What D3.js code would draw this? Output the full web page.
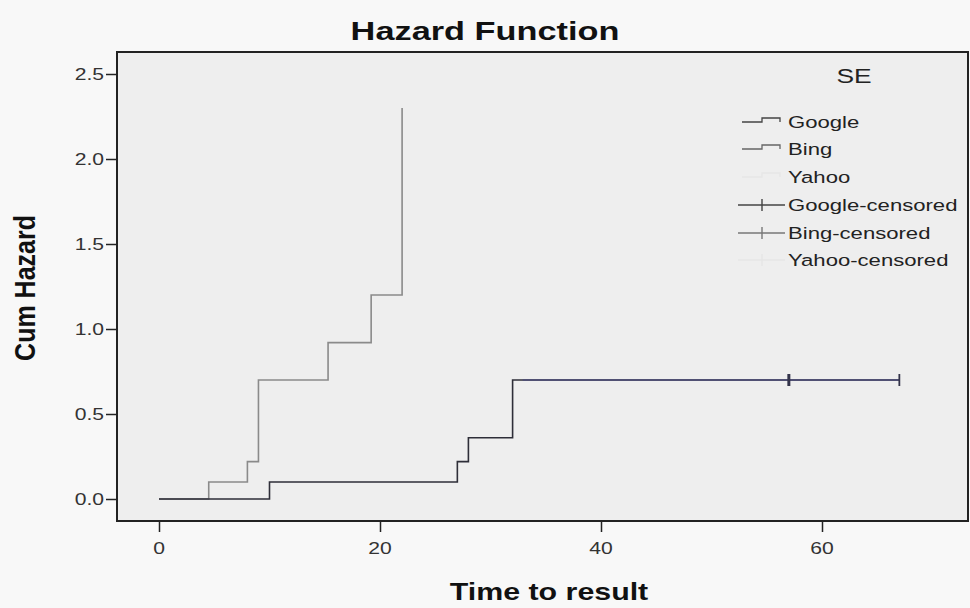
<!DOCTYPE html>
<html><head><meta charset="utf-8">
<script src="https://cdn.jsdelivr.net/npm/d3@7/dist/d3.min.js"></script>
<style>body{margin:0;background:#f8f8f8;}svg{display:block;}</style>
</head><body>
<svg id="chart" width="970" height="608"></svg>
<script>
// ---- data ----
const seriesNames = ["Google", "Bing", "Yahoo"];
const googleTimes = [0, 10, 27, 28, 32, 67];
const googleHazard = [0, 0.1, 0.22, 0.36, 0.7, 0.7];
const googleCensored = [57, 67];
const googleCensoredHazard = [0.7, 0.7];
const bingTimes = [0, 4.5, 8, 9, 15.3, 19.2, 22];
const bingHazard = [0, 0.1, 0.22, 0.7, 0.92, 1.2, 2.3];
const xTicks = [0, 20, 40, 60];
const yTicks = [0.0, 0.5, 1.0, 1.5, 2.0, 2.5];
const legendLabels = ["Google", "Bing", "Yahoo", "Google-censored", "Bing-censored", "Yahoo-censored"];

const SX = 1.32; // horizontal stretch of the original picture
const svg = d3.select("#chart");
const frame = {l: 117, t: 52, r: 968, b: 521};
const x = d3.scaleLinear().domain([0, 60]).range([159, 822]);
const y = d3.scaleLinear().domain([0, 2.5]).range([499, 74]);

function stext(g, str, px, py, size, opts = {}) {
  return g.append("text")
    .attr("transform", `translate(${px},${py}) scale(${opts.sx || SX},1)`)
    .attr("font-family", "'Liberation Sans', Arial, sans-serif")
    .attr("font-size", size)
    .attr("font-weight", opts.bold ? "bold" : "normal")
    .attr("fill", opts.fill || "#222")
    .attr("text-anchor", opts.anchor || "start")
    .text(str);
}

// background
svg.append("rect").attr("width", 970).attr("height", 608).attr("fill", "#f8f8f8");
svg.append("rect").attr("x", frame.l).attr("y", frame.t)
  .attr("width", frame.r - frame.l).attr("height", frame.b - frame.t)
  .attr("fill", "#eeeeee");

// title
stext(svg, "Hazard Function", 485, 40, 26, {bold: true, anchor: "middle", fill: "#111"});

// axes ticks
const yAxis = d3.axisLeft(y).tickValues(yTicks).tickSize(11).tickFormat(d3.format(".1f"));
const gy = svg.append("g").attr("transform", `translate(${frame.l},0)`).call(yAxis);
gy.select(".domain").remove();
gy.selectAll(".tick line").attr("stroke", "#222").attr("stroke-width", 1.5);
gy.selectAll(".tick text").remove();
yTicks.forEach(v => stext(svg, d3.format(".1f")(v), 104, y(v) + 6, 16, {anchor: "end", fill: "#333"}));

const xAxis = d3.axisBottom(x).tickValues(xTicks).tickSize(11);
const gx = svg.append("g").attr("transform", `translate(0,${frame.b})`).call(xAxis);
gx.select(".domain").remove();
gx.selectAll(".tick line").attr("stroke", "#222").attr("stroke-width", 1.5);
gx.selectAll(".tick text").remove();
xTicks.forEach(v => stext(svg, String(v), x(v), 554, 16, {anchor: "middle", fill: "#333"}));

// axis titles
stext(svg, "Time to result", 549, 600, 23, {bold: true, anchor: "middle", fill: "#111"});
svg.append("text")
  .attr("transform", `translate(35,288) scale(1.15,1) rotate(-90)`)
  .attr("font-family", "'Liberation Sans', Arial, sans-serif")
  .attr("font-size", 25).attr("font-weight", "bold").attr("fill", "#111")
  .attr("text-anchor", "middle").text("Cum Hazard");

// frame
svg.append("rect").attr("x", frame.l).attr("y", frame.t)
  .attr("width", frame.r - frame.l).attr("height", frame.b - frame.t)
  .attr("fill", "none").attr("stroke", "#222").attr("stroke-width", 2);

// step lines
const stepLine = d3.line().curve(d3.curveStepAfter).x(d => x(d[0])).y(d => y(d[1]));
const bingData = bingTimes.map((t, i) => [t, bingHazard[i]]);
const googleData = googleTimes.map((t, i) => [t, googleHazard[i]]);

svg.append("path").datum(bingData).attr("d", stepLine)
  .attr("fill", "none").attr("stroke", "#8a8a8a").attr("stroke-width", 1.6);
svg.append("path").datum(googleData).attr("d", stepLine)
  .attr("fill", "none").attr("stroke", "#2e2e38").attr("stroke-width", 1.6);
// tail of the google curve appears bluish
const tail = googleData.slice(4);
svg.append("path").datum(tail)
  .attr("d", d3.line().x((d, i) => x(d[0]) + (i === 0 ? 10 : 0)).y(d => y(d[1])))
  .attr("fill", "none").attr("stroke", "#4c4c78").attr("stroke-width", 1.6);

// censored marks
googleCensored.forEach((t, i) => {
  svg.append("line").attr("x1", x(t)).attr("x2", x(t))
    .attr("y1", y(googleCensoredHazard[i]) - 6).attr("y2", y(googleCensoredHazard[i]) + 6)
    .attr("stroke", "#33334a").attr("stroke-width", i === 0 ? 3 : 1.8);
});

// legend
stext(svg, "SE", 854, 83, 20, {anchor: "middle", fill: "#222"});
const legY = [122, 149, 177, 205, 233, 260];
const legColors = ["#444", "#666", "#e6e6e6", "#444", "#777", "#e6e6e6"];
legendLabels.forEach((lab, i) => {
  const cy = legY[i];
  const c = legColors[i];
  if (i < 3) {
    svg.append("path")
      .attr("d", `M742,${cy}H762V${cy - 4}H780V${cy}`)
      .attr("fill", "none").attr("stroke", c).attr("stroke-width", 1.3);
  } else {
    svg.append("line").attr("x1", 738).attr("x2", 785).attr("y1", cy).attr("y2", cy)
      .attr("stroke", c).attr("stroke-width", 1.4);
    svg.append("line").attr("x1", 762).attr("x2", 762).attr("y1", cy - 6).attr("y2", cy + 6)
      .attr("stroke", c).attr("stroke-width", 1.4);
  }
  stext(svg, lab, 788, cy + 6, 17, {sx: 1.3, fill: "#222"});
});
</script>
</body></html>
